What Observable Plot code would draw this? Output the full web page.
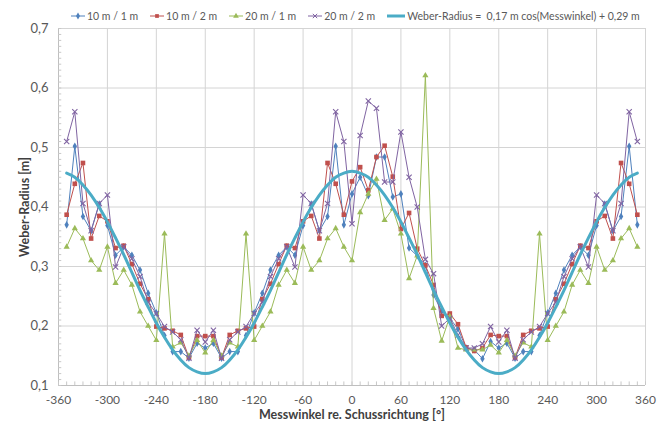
<!DOCTYPE html>
<html><head><meta charset="utf-8">
<script src="https://cdn.jsdelivr.net/npm/d3@7"></script>
<script src="https://cdn.jsdelivr.net/npm/@observablehq/plot@0.6"></script>
<style>
body{margin:0;background:#fff;font-family:Lato,"Liberation Sans",sans-serif;}
#wrap{width:664px;height:427px;position:relative;overflow:hidden;background:#fff}
#legend{height:22px;padding-top:10px;box-sizing:border-box;display:flex;align-items:center;justify-content:flex-start;gap:11px;font-size:10.5px;color:#595959;padding-left:70px}
.item{display:flex;align-items:center;gap:1px;white-space:pre}
</style></head><body>
<div id="wrap"><div id="legend"></div><div id="chart"></div></div>
<script>
// Messwinkel [°]
const angles = [-350,-340,-330,-320,-310,-300,-290,-280,-270,-260,-250,-240,-230,-220,-210,-200,-190,-180,-170,-160,-150,-140,-130,-120,-110,-100,-90,-80,-70,-60,-50,-40,-30,-20,-10,0,10,20,30,40,50,60,70,80,90,100,110,120,130,140,150,160,170,180,190,200,210,220,230,240,250,260,270,280,290,300,310,320,330,340,350];

const s10m1m = [0.370,0.502,0.384,0.360,0.405,0.369,0.319,0.333,0.319,0.294,0.255,0.222,0.184,0.157,0.157,0.146,0.171,0.163,0.171,0.146,0.157,0.157,0.184,0.222,0.255,0.294,0.319,0.333,0.319,0.369,0.405,0.360,0.384,0.502,0.370,0.422,0.450,0.419,0.484,0.484,0.417,0.422,0.331,0.318,0.302,0.252,0.225,0.213,0.195,0.163,0.160,0.145,0.174,0.163,0.171,0.146,0.157,0.157,0.184,0.222,0.255,0.294,0.319,0.333,0.319,0.369,0.405,0.360,0.384,0.502,0.370];

const s10m2m = [0.387,0.439,0.474,0.347,0.385,0.376,0.331,0.335,0.304,0.271,0.245,0.199,0.196,0.192,0.185,0.147,0.183,0.183,0.183,0.147,0.185,0.192,0.196,0.199,0.245,0.271,0.304,0.335,0.331,0.376,0.385,0.347,0.474,0.439,0.387,0.443,0.467,0.428,0.484,0.503,0.451,0.363,0.390,0.330,0.302,0.269,0.217,0.221,0.203,0.164,0.158,0.163,0.185,0.183,0.183,0.147,0.185,0.192,0.196,0.199,0.245,0.271,0.304,0.335,0.331,0.376,0.385,0.347,0.474,0.439,0.387];

const s20m1m = [0.333,0.364,0.347,0.310,0.294,0.333,0.272,0.294,0.269,0.224,0.200,0.176,0.355,0.165,0.172,0.150,0.176,0.155,0.176,0.150,0.172,0.165,0.355,0.176,0.200,0.224,0.269,0.294,0.272,0.333,0.294,0.310,0.347,0.364,0.333,0.310,0.391,0.422,0.447,0.378,0.397,0.355,0.280,0.318,0.621,0.230,0.175,0.216,0.163,0.160,0.160,0.160,0.168,0.155,0.176,0.150,0.172,0.165,0.355,0.176,0.200,0.224,0.269,0.294,0.272,0.333,0.294,0.310,0.347,0.364,0.333];

const s20m2m = [0.510,0.560,0.406,0.360,0.406,0.420,0.299,0.333,0.313,0.283,0.240,0.221,0.199,0.190,0.177,0.146,0.193,0.173,0.193,0.146,0.177,0.190,0.199,0.221,0.240,0.283,0.313,0.333,0.299,0.420,0.406,0.360,0.406,0.560,0.510,0.372,0.520,0.578,0.566,0.442,0.442,0.526,0.450,0.400,0.312,0.288,0.200,0.213,0.185,0.163,0.163,0.170,0.199,0.173,0.193,0.146,0.177,0.190,0.199,0.221,0.240,0.283,0.313,0.333,0.299,0.420,0.406,0.360,0.406,0.560,0.510];

// Weber-Radius curve, read at each 10°
const weber = [0.457,0.450,0.437,0.420,0.399,0.375,0.348,0.320,0.290,0.260,0.232,0.205,0.181,0.160,0.143,0.130,0.123,0.120,0.123,0.130,0.143,0.160,0.181,0.205,0.232,0.260,0.290,0.320,0.348,0.375,0.399,0.420,0.437,0.450,0.457,0.460,0.457,0.450,0.437,0.420,0.399,0.375,0.348,0.320,0.290,0.260,0.232,0.205,0.181,0.160,0.143,0.130,0.123,0.120,0.123,0.130,0.143,0.160,0.181,0.205,0.232,0.260,0.290,0.320,0.348,0.375,0.399,0.420,0.437,0.450,0.457];

const xTicks = [-360,-300,-240,-180,-120,-60,0,60,120,180,240,300,360];
const yTicks = [0.1,0.2,0.3,0.4,0.5,0.6,0.7];

const seriesNames = ["10 m / 1 m","10 m / 2 m","20 m / 1 m","20 m / 2 m"];
const seriesValues = [s10m1m, s10m2m, s20m1m, s20m2m];
const seriesColors = ["#4F81BD","#C0504D","#9BBB59","#8064A2"];
const seriesSymbols = ["diamond","square","triangle","times"];
const weberName = "Weber-Radius =  0,17 m cos(Messwinkel) + 0,29 m";
const weberColor = "#4BACC6";

const rows = seriesNames.map((name,k)=>angles.map((a,i)=>({angle:a, r:seriesValues[k][i], name})));
const weberRows = angles.map((a,i)=>({angle:a, r:weber[i]}));

const minorX = d3.ticks(-360,360,72);
const minorY = d3.range(10,71).map(v=>v/100);

const marks = [
  Plot.gridX(xTicks,{stroke:"#d4d4d4",strokeOpacity:1}),
  Plot.gridY(yTicks,{stroke:"#d4d4d4",strokeOpacity:1}),
  Plot.ruleX([-360],{stroke:"#bfbfbf"}),
  Plot.ruleY([0.1],{stroke:"#bfbfbf"}),
  Plot.ruleX(minorX,{x:d=>d, y1:0.1, y2:0.106, stroke:"#c8c8c8"}),
  Plot.ruleY(minorY,{y:d=>d, x1:-360, x2:-356, stroke:"#c8c8c8"}),
  Plot.axisX(xTicks,{tickSize:0,tickPadding:10,fontSize:12,fill:"#595959",tickFormat:d=>String(d),label:"Messwinkel re. Schussrichtung [°]",labelAnchor:"center",labelOffset:33,labelArrow:"none"}),
  Plot.axisY(yTicks,{tickSize:0,tickPadding:10,fontSize:13,fill:"#595959",tickFormat:d=>d.toFixed(1).replace(".",","),label:"Weber-Radius [m]",labelAnchor:"center",labelOffset:38,labelArrow:"none"})
];
rows.forEach((data,k)=>{
  marks.push(Plot.line(data,{x:"angle",y:"r",stroke:seriesColors[k],strokeWidth:1}));
  const sym = seriesSymbols[k];
  if (sym==="times") marks.push(Plot.dot(data,{x:"angle",y:"r",symbol:sym,stroke:seriesColors[k],r:2.5,strokeWidth:1.1}));
  else marks.push(Plot.dot(data,{x:"angle",y:"r",symbol:sym,fill:seriesColors[k],stroke:null,r:sym==="square"?2.6:2.3}));
});
marks.push(Plot.line(weberRows,{x:"angle",y:"r",stroke:weberColor,strokeWidth:3,curve:"natural"}));

const svg = Plot.plot({
  width:664, height:405,
  marginTop:6, marginBottom:42, marginLeft:58, marginRight:19,
  style:{fontFamily:"Lato, 'Liberation Sans', sans-serif", fontSize:"12px", color:"#404040", background:"#fff", overflow:"visible"},
  x:{domain:[-360,360]},
  y:{domain:[0.1,0.7]},
  marks
});
d3.select(svg).selectAll('g[aria-label$="axis label"] text').attr("font-weight","bold").attr("fill","#404040").attr("font-size","12.5px");
document.getElementById("chart").appendChild(svg);

// legend
const lg = document.getElementById("legend");
function symSvg(color, sym, thick, wdt){
  const ns="http://www.w3.org/2000/svg";
  const s=document.createElementNS(ns,"svg");
  s.setAttribute("width",String(wdt));s.setAttribute("height","10");
  const l=document.createElementNS(ns,"line");
  l.setAttribute("x1","1");l.setAttribute("x2",String(wdt-1));l.setAttribute("y1","5");l.setAttribute("y2","5");
  l.setAttribute("stroke",color);l.setAttribute("stroke-width",thick?3:1);
  s.appendChild(l);
  if(sym){
    const p=document.createElementNS(ns,"path");
    const d=d3.symbol(sym==="diamond"?d3.symbolDiamond:sym==="square"?d3.symbolSquare:sym==="triangle"?d3.symbolTriangle:d3.symbolTimes, 14)();
    p.setAttribute("d",d);p.setAttribute("transform","translate("+(wdt/2)+",5)");
    if(sym==="times"){p.setAttribute("stroke",color);p.setAttribute("fill","none");}
    else p.setAttribute("fill",color);
    s.appendChild(p);
  }
  return s;
}
seriesNames.forEach((n,k)=>{
  const it=document.createElement("div");it.className="item";
  it.appendChild(symSvg(seriesColors[k],seriesSymbols[k],false,16));
  const t=document.createElement("span");t.textContent=n;it.appendChild(t);
  lg.appendChild(it);
});
const it=document.createElement("div");it.className="item";
it.appendChild(symSvg(weberColor,null,true,20));
const t=document.createElement("span");t.textContent=weberName;it.appendChild(t);
lg.appendChild(it);
</script>
</body></html>
